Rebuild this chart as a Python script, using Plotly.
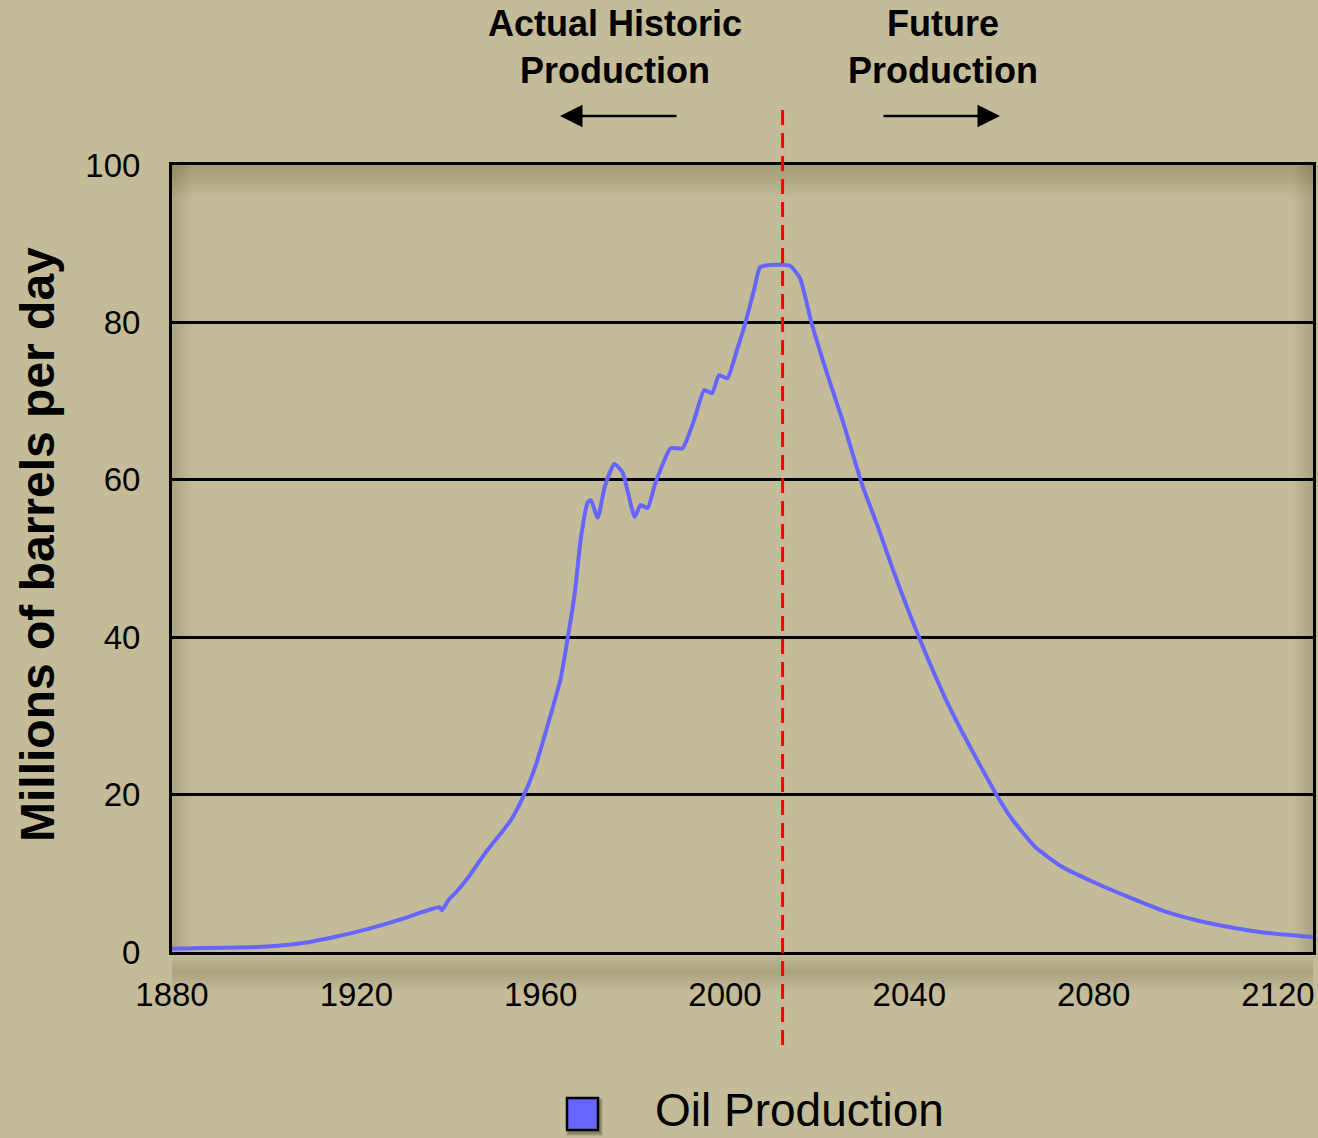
import plotly.graph_objects as go

# ---- data ----
years = [1880, 1887, 1897, 1903, 1908, 1916, 1923, 1930, 1936, 1938, 1938.6,
         1940, 1941.5, 1944.3, 1948, 1951, 1953.6, 1956.2, 1958.8, 1962.3,
         1964.4, 1965.9, 1967.4, 1968.7, 1970.2, 1970.9, 1972.4, 1973.9,
         1976.0, 1977.8, 1980.4, 1981.7, 1983.2, 1984.9, 1988.2, 1990.8,
         1993.3, 1995.5, 1997.2, 1998.7, 2000.5, 2002.6, 2004.4, 2006.3,
         2007.6, 2009.8, 2014.1, 2016.3, 2018.8, 2022.1, 2025.7, 2029.8,
         2032.9, 2036.5, 2042.1, 2048.0, 2051.6, 2055.1, 2059.2, 2062.4,
         2067.4, 2073.2, 2080.3, 2087.5, 2094.8, 2101.9, 2109.1, 2116.4,
         2127.6]
production = [0.4, 0.5, 0.6, 0.8, 1.1, 2.0, 3.0, 4.2, 5.4, 5.7, 5.3,
              6.6, 7.5, 9.5, 12.6, 14.8, 16.8, 19.7, 23.5, 30.4,
              34.9, 40.0, 45.6, 52.5, 57.1, 57.4, 55.2, 59.1,
              62.0, 60.9, 55.3, 56.8, 56.4, 59.6, 64.0, 64.0,
              67.6, 71.4, 71.0, 73.3, 72.9, 76.5, 79.9, 84.1,
              87.0, 87.3, 87.2, 85.6, 79.9, 73.6, 67.2, 59.3,
              54.5, 48.5, 40.0, 32.0, 27.8, 24.0, 19.7, 16.8,
              13.3, 10.8, 8.8, 7.0, 5.3, 4.1, 3.2, 2.5,
              1.9]
x_ticks = [1880, 1920, 1960, 2000, 2040, 2080, 2120]
y_ticks = [0, 20, 40, 60, 80, 100]
x_range = [1880, 2127.6]
now_year = 2012.5

series_name = "Oil Production"
y_title = "Millions of barrels per day"
left_label = "<b>Actual Historic<br>Production</b>"
right_label = "<b>Future<br>Production</b>"

BG = "rgb(196,188,152)"
LINE = "#6666FF"
FONT = "Liberation Sans, Arial, sans-serif"

W, H = 1318, 1138
PL, PR, PT, PB = 172, 1313, 165, 952          # plot edges in page pixels
ML, MR, MT, MB = PL, W - PR, PT, H - PB
PW = PR - PL
PH = PB - PT


def px_x(p):
    return (p - PL) / PW


def px_y(p):
    return (PB - p) / PH


fig = go.Figure()
fig.add_trace(go.Scatter(
    x=years, y=production, mode="lines", name=series_name,
    line=dict(color=LINE, width=4, shape="spline", smoothing=0.5),
    showlegend=False, hoverinfo="x+y"))

shapes = []
# soft inner shadow of the plot area (top, left, right) and band under it
for k in range(1, 9):
    d = 4 * k
    shapes.append(dict(type="rect", xref="paper", yref="paper", layer="below",
                       x0=0, x1=1, y0=1 - d / PH, y1=1,
                       fillcolor="rgba(60,50,20,0.022)", line=dict(width=0)))
    shapes.append(dict(type="rect", xref="paper", yref="paper", layer="below",
                       x0=0, x1=(d * 0.6) / PW, y0=0, y1=1,
                       fillcolor="rgba(60,50,20,0.02)", line=dict(width=0)))
    shapes.append(dict(type="rect", xref="paper", yref="paper", layer="below",
                       x0=1 - (d * 0.6) / PW, x1=1, y0=0, y1=1,
                       fillcolor="rgba(60,50,20,0.02)", line=dict(width=0)))
for k in range(1, 7):
    h = 3 * k
    shapes.append(dict(type="rect", xref="paper", yref="paper", layer="below",
                       x0=0, x1=1, y0=px_y(972 + h), y1=px_y(972 - h),
                       fillcolor="rgba(60,50,20,0.022)", line=dict(width=0)))

# "now" divider
shapes.append(dict(type="line", xref="x", yref="paper", layer="above",
                   x0=now_year, x1=now_year, y0=px_y(1045), y1=px_y(105),
                   line=dict(color="#FF0000", width=3, dash="15px,8px")))

# legend swatch (drawn by hand to get the large square)
for k, a in ((3, 0.10), (2, 0.14), (1, 0.18)):
    shapes.append(dict(type="rect", xref="paper", yref="paper", layer="above",
                       x0=px_x(567 - k + 2), x1=px_x(598 + k + 2),
                       y0=px_y(1130 + k + 3), y1=px_y(1098 - k + 3),
                       fillcolor=f"rgba(40,30,10,{a})", line=dict(width=0)))
shapes.append(dict(type="rect", xref="paper", yref="paper", layer="above",
                   x0=px_x(567), x1=px_x(598), y0=px_y(1130), y1=px_y(1098),
                   fillcolor=LINE, line=dict(color="black", width=2.5)))

annotations = [
    dict(text=left_label, xref="paper", yref="paper", x=px_x(615), y=px_y(47),
         xanchor="center", yanchor="middle", showarrow=False,
         font=dict(family=FONT, size=36, color="black")),
    dict(text=right_label, xref="paper", yref="paper", x=px_x(943), y=px_y(47),
         xanchor="center", yanchor="middle", showarrow=False,
         font=dict(family=FONT, size=36, color="black")),
    dict(text="", xref="paper", yref="paper", x=px_x(560), y=px_y(116),
         ax=118, ay=0, showarrow=True, arrowhead=2, arrowsize=1.8,
         arrowwidth=2.5, arrowcolor="black"),
    dict(text="", xref="paper", yref="paper", x=px_x(1000), y=px_y(116),
         ax=-118, ay=0, showarrow=True, arrowhead=2, arrowsize=1.8,
         arrowwidth=2.5, arrowcolor="black"),
    dict(text=series_name, xref="paper", yref="paper", x=px_x(653), y=px_y(1110),
         xanchor="left", yanchor="middle", showarrow=False,
         font=dict(family=FONT, size=46, color="black")),
    dict(text="<b>" + y_title + "</b>", xref="paper", yref="paper",
         x=px_x(37), y=px_y(545), xanchor="center", yanchor="middle",
         textangle=-90, showarrow=False,
         font=dict(family=FONT, size=48, color="black")),
]

fig.update_layout(
    width=W, height=H,
    margin=dict(l=ML, r=MR, t=MT, b=MB, autoexpand=False),
    paper_bgcolor=BG, plot_bgcolor=BG,
    font=dict(family=FONT, color="black"),
    showlegend=False,
    shapes=shapes, annotations=annotations,
    xaxis=dict(range=x_range, tickvals=x_ticks, showgrid=False, zeroline=False,
               showline=True, mirror=True, linecolor="black", linewidth=3,
               ticks="", ticklabelstandoff=11, ticklabeloverflow="allow",
               tickfont=dict(family=FONT, size=33, color="black")),
    yaxis=dict(range=[0, 100], tickvals=y_ticks, showgrid=True,
               gridcolor="black", gridwidth=2.5, zeroline=False,
               showline=True, mirror=True, linecolor="black", linewidth=3,
               ticks="", ticklabelstandoff=22, ticklabeloverflow="allow",
               tickfont=dict(family=FONT, size=33, color="black")),
)

fig.write_html(
    "out.html",
    config={"displayModeBar": False},
    post_script="document.body.style.margin='0';"
                "document.body.style.overflow='hidden';"
                "document.body.style.background='" + BG + "';",
)
